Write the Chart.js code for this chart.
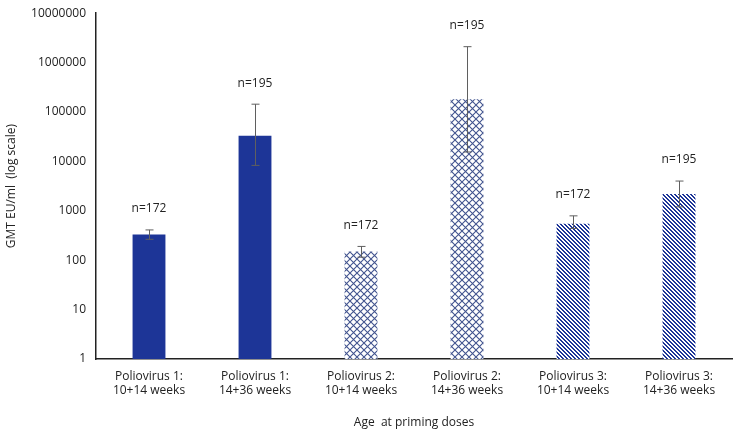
<!DOCTYPE html>
<html>
<head>
<meta charset="utf-8">
<script src="https://cdn.jsdelivr.net/npm/chart.js@4/dist/chart.umd.min.js"></script>
<style>
    html, body { margin: 0; padding: 0; background: #fff; }
    #wrap { width: 734px; height: 434px; }
</style>
</head>
<body>
<div id="wrap"><canvas id="gmtCanvas"></canvas></div>
<script>
const categories = [
    ["Poliovirus 1:", "10+14 weeks"],
    ["Poliovirus 1:", "14+36 weeks"],
    ["Poliovirus 2:", "10+14 weeks"],
    ["Poliovirus 2:", "14+36 weeks"],
    ["Poliovirus 3:", "10+14 weeks"],
    ["Poliovirus 3:", "14+36 weeks"],
];
const gmtValues = [330, 33000, 150, 182000, 550, 2200];
const ciLower = [265, 8300, 115, 15500, 440, 1200];
const ciUpper = [410, 144000, 190, 2100000, 790, 4000];
const sampleSizes = ["n=172", "n=195", "n=172", "n=195", "n=172", "n=195"];
const tickValues = [1, 10, 100, 1000, 10000, 100000, 1000000, 10000000];

const navy = "#1d3597";
const textFont = { family: "'Open Sans'", size: 12 };

function makeCrossPattern() {
    const c = document.createElement("canvas");
    c.width = 7;
    c.height = 7;
    const ctx = c.getContext("2d");
    ctx.fillStyle = "#fff";
    ctx.fillRect(0, 0, 7, 7);
    ctx.strokeStyle = "#42548f";
    ctx.lineWidth = 1.1;
    ctx.beginPath();
    ctx.moveTo(0, 0);
    ctx.lineTo(7, 7);
    ctx.moveTo(7, 0);
    ctx.lineTo(0, 7);
    ctx.stroke();
    return document.createElement("canvas").getContext("2d").createPattern(c, "repeat");
}
function makeStripePattern() {
    const c = document.createElement("canvas");
    c.width = 4;
    c.height = 4;
    const ctx = c.getContext("2d");
    ctx.fillStyle = "#fff";
    ctx.fillRect(0, 0, 4, 4);
    ctx.fillStyle = navy;
    for (let y = 0; y < 4; ++y) {
        for (let x = 0; x < 4; ++x) {
            if ((x - y + 4) % 4 < 2) {
                ctx.fillRect(x, y, 1, 1);
            }
        }
    }
    return document.createElement("canvas").getContext("2d").createPattern(c, "repeat");
}
const cross = makeCrossPattern();
const stripe = makeStripePattern();
const barFills = [navy, navy, cross, cross, stripe, stripe];

const errorBarPlugin = {
    id: "errorBars",
    afterDatasetsDraw(chart) {
        const ctx = chart.ctx;
        const y = chart.scales.y;
        const meta = chart.getDatasetMeta(0);
        ctx.save();
        ctx.strokeStyle = "#5f5f5f";
        ctx.lineWidth = 1;
        ctx.fillStyle = "#222";
        ctx.font = "12px 'Open Sans'";
        ctx.textAlign = "center";
        ctx.textBaseline = "middle";
        meta.data.forEach((bar, i) => {
            const x = Math.round(bar.x) + 0.5;
            const top = y.getPixelForValue(ciUpper[i]);
            const bottom = y.getPixelForValue(ciLower[i]);
            ctx.beginPath();
            ctx.moveTo(x, top);
            ctx.lineTo(x, bottom);
            ctx.moveTo(x - 4, top);
            ctx.lineTo(x + 4, top);
            ctx.moveTo(x - 4, bottom);
            ctx.lineTo(x + 4, bottom);
            ctx.stroke();
            ctx.fillText(sampleSizes[i], bar.x, top - 21);
        });
        ctx.restore();
    },
};

const data = {
    labels: categories,
    datasets: [
        {
            data: gmtValues,
            backgroundColor: barFills,
            borderWidth: 0,
            categoryPercentage: 1,
            barPercentage: 0.31,
        },
    ],
};

const config = {
    type: "bar",
    data: data,
    plugins: [errorBarPlugin],
    options: {
        responsive: false,
        animation: false,
        layout: { padding: { top: 9, right: 2, left: 0, bottom: 0 } },
        plugins: {
            legend: { display: false },
            tooltip: { enabled: false },
        },
        scales: {
            x: {
                grid: { display: false, drawTicks: false },
                border: { color: "#222", width: 1.5 },
                ticks: {
                    color: "#222",
                    font: textFont,
                    padding: 10,
                    maxRotation: 0,
                },
                title: {
                    display: true,
                    text: "Age  at priming doses",
                    color: "#222",
                    font: textFont,
                    padding: { top: 13 },
                },
                afterFit(scale) {
                    scale.height = 75;
                },
            },
            y: {
                type: "logarithmic",
                min: 1,
                max: 10000000,
                grid: { display: false, drawTicks: true, tickLength: 4, tickColor: "#222" },
                border: { color: "#222", width: 1.5 },
                afterBuildTicks(scale) {
                    scale.ticks = tickValues.map((v) => ({ value: v }));
                },
                ticks: {
                    color: "#222",
                    font: textFont,
                    padding: 6,
                    callback: (v) => String(v),
                },
                title: {
                    display: true,
                    text: "GMT EU/ml  (log scale)",
                    color: "#222",
                    font: textFont,
                    padding: { bottom: 14 },
                },
                afterFit(scale) {
                    scale.width = 96;
                },
            },
        },
    },
};

const canvas = document.getElementById("gmtCanvas");
canvas.width = 734;
canvas.height = 434;
new Chart(canvas, config);
</script>
</body>
</html>
